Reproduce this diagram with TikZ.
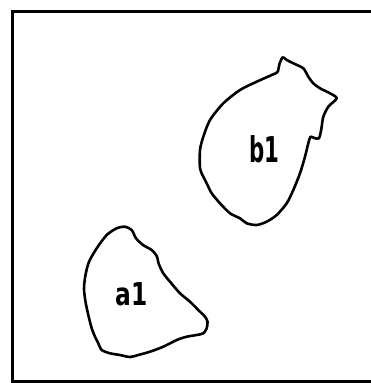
\documentclass[tikz,border=0pt]{standalone}
\usepackage{fontspec}
\usepackage{graphicx}
\setmainfont{DejaVu Sans}
\begin{document}
\begin{tikzpicture}[x=1pt,y=-1pt,
  outline/.style={line width=2.6pt,line join=round,line cap=round},
  frameline/.style={line width=2.4pt},
  lbl/.style={inner sep=0pt,font=\bfseries}]
\useasboundingbox (0,0) rectangle (371,383);
% frame (open to the right)
\draw[frameline] (371,11.5) -- (12.5,11.5) -- (12.5,381.5) -- (371,381.5);
% blob b1
\draw[outline] plot[smooth cycle,tension=0.45] coordinates {
 (282.7,57.3) (286.7,60) (293.3,63.3) (303.3,68.3) (308.3,76.7) (313.3,83.3)
 (320,88.3) (330,93.3) (336.7,98.3) (328.3,106.7) (323.3,116.7) (321.7,126.7)
 (320.5,133.3) (319,138.3) (315,138.3) (310.5,136.7) (308.3,143.3) (305,156.7)
 (300,173.3) (293.3,190) (286.7,203.3) (276.7,215) (266.7,221.7) (256.7,225)
 (246.7,223.3) (240,218.3) (230,213.3) (220,203.3) (211.7,193.3) (206.7,183.3)
 (203.3,176.7) (200,168.3) (200,150) (203.3,136.7) (210,120) (223.3,103.3)
 (240,90) (256.7,81.7) (271.7,75) (277.5,72) (279.5,64)};
% blob a1
\draw[outline] plot[smooth cycle,tension=0.45] coordinates {
 (125,226.7) (131.7,230) (136,238.3) (143,245) (151.7,250) (156.7,256)
 (158.8,264) (163.3,273.3) (170,281.7) (180,293.3) (190,301.7) (198.3,310)
 (205,316.7) (207.5,321.7) (206.7,328.3) (203.3,333.3) (196.7,335) (186.7,336.7)
 (176.7,340) (163.3,346.7) (150,351.7) (138.3,355) (130,357) (120,355)
 (110,353.3) (101.7,350) (98.3,343.3) (95,336.7) (91.7,328.3) (88.3,315)
 (85.5,301.7) (84,288.3) (85.5,275) (89,261.7) (96.7,248.3) (106.7,235)
 (116.7,228.3)};
% labels
\node[lbl] (b1) at (264.5,149) {\resizebox{30pt}{27pt}{b1}};
\node[lbl] (a1) at (131.5,294) {\resizebox{32pt}{23pt}{a1}};
\end{tikzpicture}
\end{document}
